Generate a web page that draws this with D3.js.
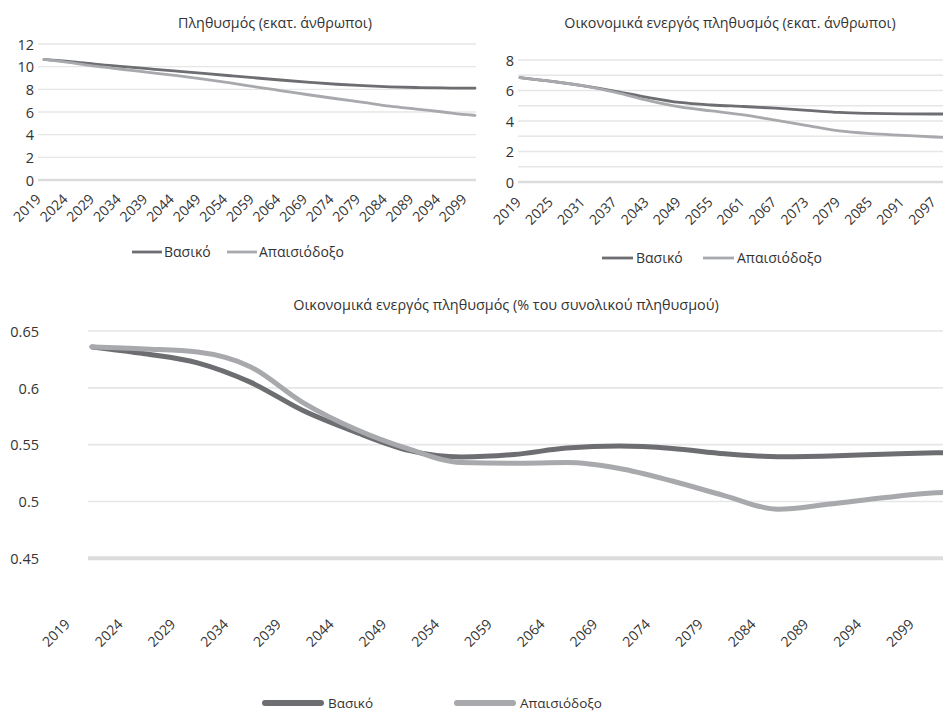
<!DOCTYPE html>
<html>
<head>
<meta charset="utf-8">
<script src="https://cdn.jsdelivr.net/npm/d3@7"></script>
<style>
  body { margin: 0; background: #fff; }
  text { font-family: 'Open Sans', sans-serif; fill: #333; }
</style>
</head>
<body>
<div id="chart"></div>
<script>
// Three line charts: population, active population, active share (two scenarios each)

var seriesNames = ['Βασικό', 'Απαισιόδοξο'];
var basicColor = '#6d6e71';
var pessimColor = '#a7a9ac';

// population, million people
var popYears = [2019, 2024, 2029, 2034, 2039, 2044, 2049, 2054, 2059, 2064, 2069, 2074, 2079, 2084, 2089, 2094, 2099, 2100];
var popBasic = [10.65, 10.45, 10.2, 10.0, 9.8, 9.6, 9.4, 9.2, 9.0, 8.8, 8.62, 8.45, 8.32, 8.22, 8.16, 8.12, 8.1, 8.1];
var popPessim = [10.65, 10.35, 10.02, 9.75, 9.47, 9.2, 8.9, 8.56, 8.2, 7.85, 7.5, 7.17, 6.85, 6.52, 6.26, 6.0, 5.74, 5.7];
var popTickYears = [2019, 2024, 2029, 2034, 2039, 2044, 2049, 2054, 2059, 2064, 2069, 2074, 2079, 2084, 2089, 2094, 2099];
var popYTicks = [0, 2, 4, 6, 8, 10, 12];

// economically active population, million people
var actYears = [2019, 2025, 2031, 2037, 2043, 2049, 2055, 2061, 2067, 2073, 2079, 2085, 2091, 2097, 2100];
var actBasic = [6.85, 6.6, 6.3, 5.95, 5.55, 5.22, 5.05, 4.95, 4.84, 4.7, 4.56, 4.5, 4.47, 4.46, 4.46];
var actPessim = [6.85, 6.6, 6.3, 5.88, 5.35, 4.93, 4.66, 4.4, 4.05, 3.7, 3.35, 3.17, 3.06, 2.95, 2.9];
var actTickYears = [2019, 2025, 2031, 2037, 2043, 2049, 2055, 2061, 2067, 2073, 2079, 2085, 2091, 2097];
var actYTicks = [0, 2, 4, 6, 8];
var actGrid = [0, 1, 2, 3, 4, 5, 6, 7, 8];

// economically active population, share of total
var shareYears = [2019, 2024, 2029, 2034, 2039, 2044, 2049, 2054, 2059, 2064, 2069, 2074, 2079, 2084, 2089, 2094, 2099, 2100];
var shareBasic = [0.636, 0.630, 0.622, 0.605, 0.580, 0.561, 0.545, 0.5392, 0.5413, 0.547, 0.5488, 0.5467, 0.542, 0.5394, 0.5401, 0.5415, 0.5428, 0.543];
var sharePessim = [0.636, 0.6342, 0.6315, 0.6186, 0.587, 0.5635, 0.5462, 0.5343, 0.5337, 0.5342, 0.529, 0.518, 0.505, 0.4932, 0.4978, 0.5032, 0.5076, 0.508];
var shareTickYears = [2019, 2024, 2029, 2034, 2039, 2044, 2049, 2054, 2059, 2064, 2069, 2074, 2079, 2084, 2089, 2094, 2099];
var shareYTicks = [0.45, 0.5, 0.55, 0.6, 0.65];

var width = 943;
var height = 713;

var svg = d3.select('#chart').append('svg')
      .attr('width', width)
      .attr('height', height)
      .style('display', 'block');

function drawPanel(p) {
      var x = d3.scaleLinear().domain([2019, 2100]).range(p.xRange);
      var y = d3.scaleLinear().domain(p.yDomain).range(p.yRange);
      var g = svg.append('g');
      var base = p.yDomain[0];

      // gridlines, the base line is thicker
      g.selectAll('.grid')
            .data(p.grid)
            .enter()
            .append('line')
            .attr('x1', p.gridX[0])
            .attr('x2', p.gridX[1])
            .attr('y1', d => y(d))
            .attr('y2', d => y(d))
            .attr('stroke', d => d === base ? '#dcdcdc' : '#e6e6e6')
            .attr('stroke-width', d => d === base ? p.baseWidth : p.gridWidth);

      // y axis labels
      var yAxis = d3.axisLeft(y)
            .tickValues(p.yTicks)
            .tickSize(0)
            .tickPadding(0)
            .tickFormat(p.yFormat);
      var ya = g.append('g')
            .attr('transform', 'translate(' + p.yLabelX + ',0)')
            .call(yAxis);
      ya.select('.domain').remove();
      ya.selectAll('text')
            .style('font-size', p.yFont + 'px')
            .style('fill', '#333')
            .attr('dy', '0.36em');

      // rotated year labels
      g.selectAll('.xlab')
            .data(p.tickYears)
            .enter()
            .append('text')
            .attr('transform', d => 'translate(' + (x(d) + p.xLabDx) + ',' + p.xLabY + ') rotate(-45)')
            .attr('text-anchor', 'end')
            .style('font-size', p.xFont + 'px')
            .text(d => d);

      // the two scenarios, pessimistic drawn on top
      var line = d3.line()
            .x(d => x(d[0]))
            .y(d => y(d[1]))
            .curve(d3.curveMonotoneX);
      var pairsBasic = p.years.map((yr, i) => [yr, p.basic[i]]);
      var pairsPessim = p.years.map((yr, i) => [yr, p.pessim[i]]);
      g.append('path')
            .datum(pairsBasic)
            .attr('d', line)
            .attr('fill', 'none')
            .attr('stroke', basicColor)
            .attr('stroke-width', p.lineWidth)
            .attr('stroke-linecap', 'round');
      g.append('path')
            .datum(pairsPessim)
            .attr('d', line)
            .attr('fill', 'none')
            .attr('stroke', pessimColor)
            .attr('stroke-width', p.lineWidth)
            .attr('stroke-linecap', 'round');

      // title
      g.append('text')
            .attr('x', p.titleX)
            .attr('y', p.titleY)
            .attr('text-anchor', 'middle')
            .style('font-size', p.titleFont + 'px')
            .text(p.title);

      // legend
      var colors = [basicColor, pessimColor];
      p.legend.forEach(function (lx, i) {
            g.append('line')
                  .attr('x1', lx)
                  .attr('x2', lx + p.legendLen)
                  .attr('y1', p.legendY)
                  .attr('y2', p.legendY)
                  .attr('stroke', colors[i])
                  .attr('stroke-width', p.legendWidth)
                  .attr('stroke-linecap', p.legendCap);
            g.append('text')
                  .attr('x', lx + p.legendLen + p.legendGap)
                  .attr('y', p.legendY)
                  .attr('dy', '0.36em')
                  .style('font-size', p.legendFont + 'px')
                  .text(seriesNames[i]);
      });
}

drawPanel({
      title: 'Πληθυσμός (εκατ. άνθρωποι)', titleX: 275, titleY: 28, titleFont: 14.3,
      years: popYears, basic: popBasic, pessim: popPessim,
      xRange: [44, 475], yDomain: [0, 12], yRange: [180, 44],
      grid: popYTicks, gridX: [38, 476], gridWidth: 1.3, baseWidth: 2.5,
      yTicks: popYTicks, yFormat: d3.format('d'), yLabelX: 34, yFont: 14.5,
      tickYears: popTickYears, xLabDx: -2, xLabY: 200, xFont: 14,
      lineWidth: 2.8,
      legend: [132, 227], legendY: 252, legendLen: 30, legendGap: 2, legendWidth: 2.8, legendCap: 'butt', legendFont: 14
});

drawPanel({
      title: 'Οικονομικά ενεργός πληθυσμός (εκατ. άνθρωποι)', titleX: 730, titleY: 28, titleFont: 14.3,
      years: actYears, basic: actBasic, pessim: actPessim,
      xRange: [520, 951], yDomain: [0, 8], yRange: [182, 60],
      grid: actGrid, gridX: [518, 943], gridWidth: 1.3, baseWidth: 2.5,
      yTicks: actYTicks, yFormat: d3.format('d'), yLabelX: 514, yFont: 14.5,
      tickYears: actTickYears, xLabDx: 2, xLabY: 203, xFont: 14,
      lineWidth: 2.8,
      legend: [602, 703], legendY: 258, legendLen: 31, legendGap: 3, legendWidth: 2.8, legendCap: 'butt', legendFont: 14
});

drawPanel({
      title: 'Οικονομικά ενεργός πληθυσμός (% του συνολικού πληθυσμού)', titleX: 506, titleY: 310, titleFont: 14.4,
      years: shareYears, basic: shareBasic, pessim: sharePessim,
      xRange: [92, 946.5], yDomain: [0.45, 0.65], yRange: [558.3, 331],
      grid: shareYTicks, gridX: [88, 943], gridWidth: 1.6, baseWidth: 4,
      yTicks: shareYTicks, yFormat: d => String(d), yLabelX: 39, yFont: 14.5,
      tickYears: shareTickYears, xLabDx: -21, xLabY: 625, xFont: 14,
      lineWidth: 5,
      legend: [265, 457], legendY: 703, legendLen: 56, legendGap: 7, legendWidth: 6, legendCap: 'round', legendFont: 13.5
});
</script>
</body>
</html>
